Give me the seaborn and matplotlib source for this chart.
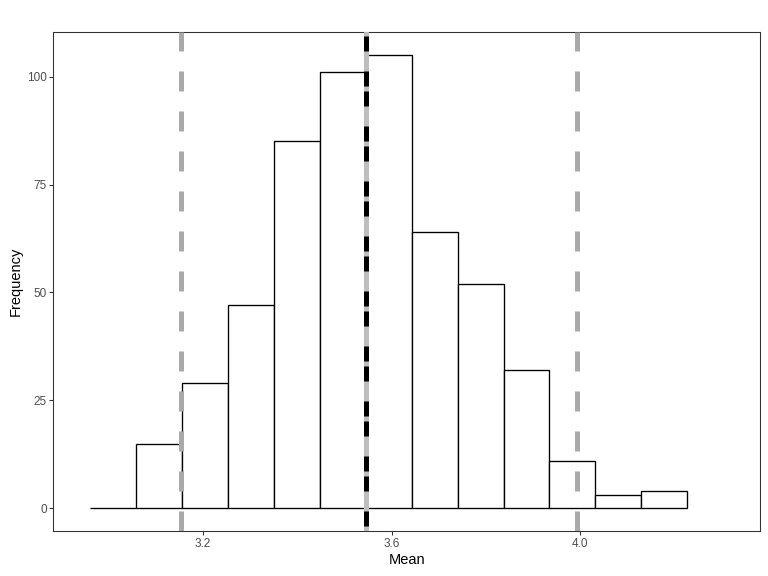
import numpy as np
import pandas as pd
import matplotlib
matplotlib.use("Agg")
import matplotlib.pyplot as plt
import seaborn as sns

# histogram
bin_start = 2.9612
bin_width = 0.09735
counts = [0, 15, 29, 47, 85, 101, 105, 64, 52, 32, 11, 3, 4]

# reference lines
mean_value = 3.547
lower_value = 3.153
upper_value = 3.994

x_ticks = [3.2, 3.6, 4.0]
y_ticks = [0, 25, 50, 75, 100]

edges = bin_start + bin_width * np.arange(len(counts) + 1)
centers = (edges[:-1] + edges[1:]) / 2
hist_df = pd.DataFrame({'Mean': centers, 'count': counts})

sns.set_theme(style="white")
plt.rcParams['font.family'] = ['Liberation Sans', 'DejaVu Sans']

fig, ax = plt.subplots(figsize=(8, 6), dpi=96)
fig.subplots_adjust(left=53.3 / 768, right=760.3 / 768,
                    top=1 - 32.3 / 576, bottom=1 - 531 / 576)

sns.histplot(data=hist_df, x='Mean', weights='count', bins=edges.tolist(),
             color='white', edgecolor='black', linewidth=1.0, alpha=1, ax=ax)

lw = 3.75
ax.axvline(mean_value, color='#BEBEBE', lw=lw, zorder=3)
ax.axvline(mean_value, color='black', lw=lw, linestyle=(10, (3, 4, 3, 1)), zorder=4)
ax.axvline(lower_value, color='#A9A9A9', lw=lw, linestyle=(0, (4, 4)), zorder=3)
ax.axvline(upper_value, color='#A9A9A9', lw=lw, linestyle=(0, (4, 4)), zorder=3)

ax.set_xlim(2.8835, 4.3813)
ax.set_ylim(-5.25, 110.25)
ax.set_xticks(x_ticks)
ax.set_xticklabels(['3.2', '3.6', '4.0'])
ax.set_yticks(y_ticks)

for s in ax.spines.values():
    s.set_visible(True)
    s.set_color('#333333')
    s.set_linewidth(0.8)

ax.tick_params(axis='both', length=2.75, width=0.8, color='#333333',
               labelcolor='#4D4D4D', labelsize=8.8, pad=2.2,
               bottom=True, left=True)
ax.set_xlabel('Mean', fontsize=11, color='black', labelpad=2.5)
ax.set_ylabel('Frequency', fontsize=11, color='black', labelpad=3)

fig.savefig('out.png', dpi=96)
